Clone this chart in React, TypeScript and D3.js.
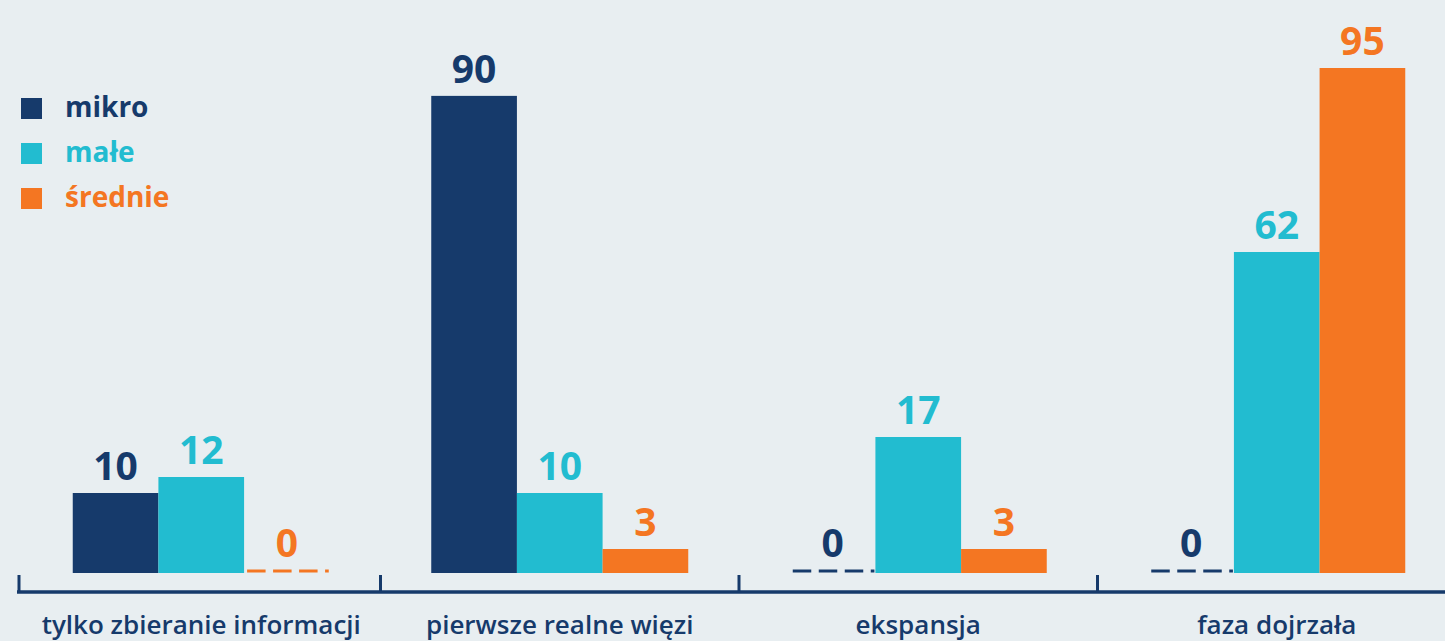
import React from "react";
import * as d3 from "d3";

const categories = ["tylko zbieranie informacji", "pierwsze realne więzi", "ekspansja", "faza dojrzała"];
const seriesNames = ["mikro", "małe", "średnie"];
const mikro = [10, 90, 0, 0];
const male = [12, 10, 17, 62];
const srednie = [0, 3, 3, 95];
const seriesValues = [mikro, male, srednie];
const colors = ["#163a6b", "#22bcd0", "#f47622"];
// the reference's bar heights are not proportional; approximate its height mapping with knots
const yKnots = [0, 17, 62, 95];

const W = 1445;
const H = 641;
const BG = "#e8eef1";
const FONT = "'Open Sans', sans-serif";

export default function App() {
  const x0 = d3.scaleBand<string>().domain(categories).range([22, 1456]);
  const groupW = 257;
  const y = d3.scaleLinear().domain(yKnots).range([573, 437, 252, 68]);
  const navy = colors[0];

  return (
    <svg width={W} height={H} style={{ position: "absolute", left: 0, top: 0, display: "block" }}>
      <rect x={0} y={0} width={W} height={H} fill={BG} />
      {/* legend */}
      {seriesNames.map((s, i) => (
        <g key={s} transform={`translate(21, ${98 + i * 45})`}>
          <rect x={0} y={0} width={21} height={21} fill={colors[i]} />
          <text x={44} y={19} fill={colors[i]} fontFamily={FONT} fontWeight={700} fontSize={28}>
            {s}
          </text>
        </g>
      ))}
      {/* bars */}
      {categories.map((c, ci) => {
        const cx = (x0(c) as number) + x0.bandwidth() / 2;
        const x1 = d3.scaleBand<string>().domain(seriesNames).range([cx - groupW / 2, cx + groupW / 2]);
        return (
          <g key={c}>
            {seriesNames.map((s, si) => {
              const v = seriesValues[si][ci];
              const bx = x1(s) as number;
              const bw = x1.bandwidth();
              const top = y(v);
              return (
                <g key={s}>
                  {v > 0 ? (
                    <rect x={bx} y={top} width={bw} height={y(0) - top} fill={colors[si]} />
                  ) : (
                    <line x1={bx + 3} x2={bx + bw - 1} y1={y(0) - 2} y2={y(0) - 2} stroke={colors[si]} strokeWidth={3} strokeDasharray="18.5,7.5" />
                  )}
                  <text
                    x={bx + bw / 2}
                    y={top - (v > 0 ? 13 : 16)}
                    textAnchor="middle"
                    fill={colors[si]}
                    fontFamily={FONT}
                    fontWeight={700}
                    fontSize={39}
                  >
                    {v}
                  </text>
                </g>
              );
            })}
          </g>
        );
      })}
      {/* axis */}
      <line x1={17} x2={W} y1={592} y2={592} stroke={navy} strokeWidth={3.5} />
      {categories.map((c, i) => {
        const tx = i === 0 ? 19 : (x0(c) as number);
        return <line key={c} x1={tx} x2={tx} y1={575} y2={592} stroke={navy} strokeWidth={3} />;
      })}
      {categories.map((c) => (
        <text
          key={c}
          x={(x0(c) as number) + x0.bandwidth() / 2}
          y={634}
          textAnchor="middle"
          fill={navy}
          fontFamily={FONT}
          fontWeight={600}
          fontSize={26}
        >
          {c}
        </text>
      ))}
    </svg>
  );
}
